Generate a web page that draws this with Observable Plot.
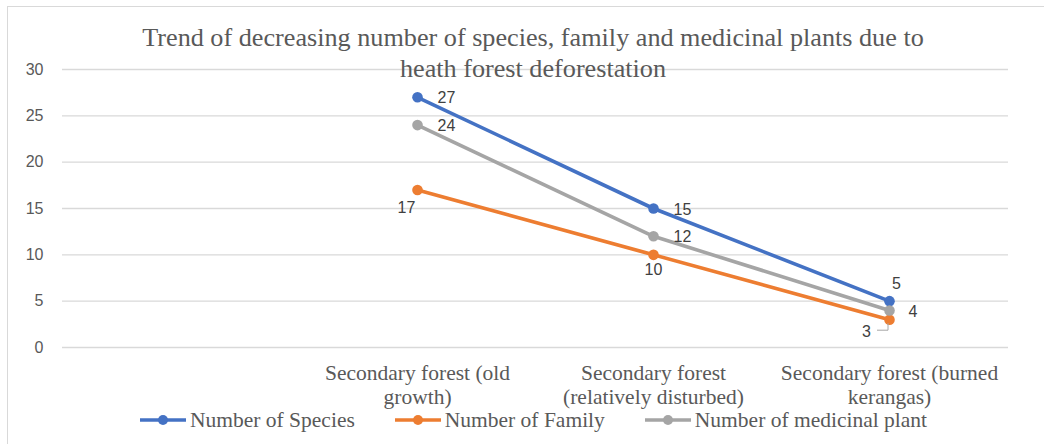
<!DOCTYPE html>
<html>
<head>
<meta charset="utf-8">
<script src="https://cdn.jsdelivr.net/npm/d3@7"></script>
<script src="https://cdn.jsdelivr.net/npm/@observablehq/plot@0.6"></script>
<style>
  html, body { margin: 0; padding: 0; background: #fff; }
  #wrap { position: relative; width: 1044px; height: 444px; overflow: hidden; }
  #frame { position: absolute; left: 7px; top: 6px; width: 1100px; height: 500px;
           border-left: 1.5px solid #d9d9d9; border-top: 1.5px solid #d9d9d9; box-sizing: border-box; }
  #chart { position: absolute; left: 0; top: 0; }
  #title { position: absolute; left: 0; top: 22px; width: 1066px; text-align: center;
           font-family: "Liberation Serif", "Times New Roman", serif; font-size: 26.2px; line-height: 31px; color: #595959; }
  #legend { position: absolute; left: 140px; top: 407px; display: flex; gap: 40px;
            font-family: "Liberation Serif", "Times New Roman", serif; font-size: 21.5px; line-height: 26px; color: #595959; }
  .item { display: flex; align-items: center; white-space: nowrap; }
  .item svg { margin-right: 4px; }
</style>
</head>
<body>
<div id="wrap">
  <div id="frame"></div>
  <div id="chart"></div>
  <div id="title">Trend of decreasing number of species, family and medicinal plants due to<br>heath forest deforestation</div>
  <div id="legend"></div>
</div>
<script>
// ---- data ----
const categories = ["", "Secondary forest (old growth)", "Secondary forest (relatively disturbed)", "Secondary forest (burned kerangas)"];
const categoryLabels = ["", "Secondary forest (old\ngrowth)", "Secondary forest\n(relatively disturbed)", "Secondary forest (burned\nkerangas)"];
const seriesNames = ["Number of Species", "Number of Family", "Number of medicinal plant"];
const speciesValues = [27, 15, 5];
const familyValues = [17, 10, 3];
const medicinalValues = [24, 12, 4];
const yTicks = [0, 5, 10, 15, 20, 25, 30];
const seriesColors = ["#4472C4", "#ED7D31", "#A5A5A5"];

// ---- label placement (style, not data) ----
const place = {
  right: {dx: 20, dy: 1, anchor: "start"},
  below: {dx: 0, dy: 15, anchor: "middle"},
  belowLeft: {dx: -11, dy: 18, anchor: "middle"},
  above: {dx: 7, dy: -17, anchor: "middle"},
  leader: {dx: -23, dy: 12, anchor: "middle"}
};
const placements = [
  ["right", "right", "above"],
  ["belowLeft", "below", "leader"],
  ["right", "right", "right"]
];
const placeOverride = {"2-2": {dx: 19, dy: 1, anchor: "start"}};

const valueSets = [speciesValues, familyValues, medicinalValues];
const rows = [];
valueSets.forEach((vals, s) => {
  vals.forEach((v, i) => {
    const p = placeOverride[`${s}-${i}`] || place[placements[s][i]];
    rows.push({series: seriesNames[s], cat: categories[i + 1], value: v, pos: placements[s][i], ...p});
  });
});

const labelOf = new Map(categories.map((c, i) => [c, categoryLabels[i]]));

const textMarks = [];
const groups = d3.groups(rows, d => `${d.dx}|${d.dy}|${d.anchor}`);
for (const [, g] of groups) {
  textMarks.push(Plot.text(g, {
    x: "cat", y: "value", text: d => String(d.value),
    dx: g[0].dx, dy: g[0].dy, textAnchor: g[0].anchor,
    fontFamily: "Liberation Sans, Arial, sans-serif", fontSize: 16, fill: "#404040"
  }));
}

const plot = Plot.plot({
  width: 1044,
  height: 444,
  marginTop: 69,
  marginBottom: 97,
  marginLeft: 62,
  marginRight: 36,
  style: {background: "transparent", overflow: "visible"},
  x: {type: "point", domain: categories, padding: 0.5},
  y: {domain: [0, 30], range: [347, 69]},
  color: {domain: seriesNames, range: seriesColors},
  marks: [
    Plot.gridY(yTicks, {stroke: "#d9d9d9", strokeOpacity: 1, strokeWidth: 1.3}),
    Plot.axisY(yTicks, {tickSize: 0, tickPadding: 19, fontSize: 16, fill: "#595959",
      fontFamily: "Liberation Sans, Arial, sans-serif", label: null}),
    Plot.axisX({tickSize: 0, tickPadding: 15, fontSize: 21.5, lineHeight: 1.13,
      fontFamily: "Liberation Serif, Times New Roman, serif", fill: "#595959",
      tickFormat: d => labelOf.get(d), label: null}),
    Plot.line(rows, {x: "cat", y: "value", z: "series", stroke: "series", strokeWidth: 3.6, strokeLinecap: "round"}),
    Plot.dot(rows, {x: "cat", y: "value", fill: "series", r: 5.3}),
    ...textMarks
  ]
});
document.getElementById("chart").appendChild(plot);

// leader line for the "3" label, positioned through the plot's scales
const sx = plot.scale("x"), sy = plot.scale("y");
rows.filter(d => d.pos === "leader").forEach(d => {
  const px = sx.apply(d.cat), py = sy.apply(d.value);
  d3.select(plot).append("path")
    .attr("d", `M${px - 12},${py + 11}H${px - 1}V${py + 4}`)
    .attr("fill", "none").attr("stroke", "#a6a6a6").attr("stroke-width", 1);
});

// legend
const legend = d3.select("#legend");
seriesNames.forEach((name, i) => {
  const item = legend.append("div").attr("class", "item");
  const svg = item.append("svg").attr("width", 46).attr("height", 14);
  svg.append("line").attr("x1", 0).attr("x2", 46).attr("y1", 7).attr("y2", 7)
    .attr("stroke", seriesColors[i]).attr("stroke-width", 3.6);
  svg.append("circle").attr("cx", 23).attr("cy", 7).attr("r", 5).attr("fill", seriesColors[i]);
  item.append("span").text(name);
});
</script>
</body>
</html>
